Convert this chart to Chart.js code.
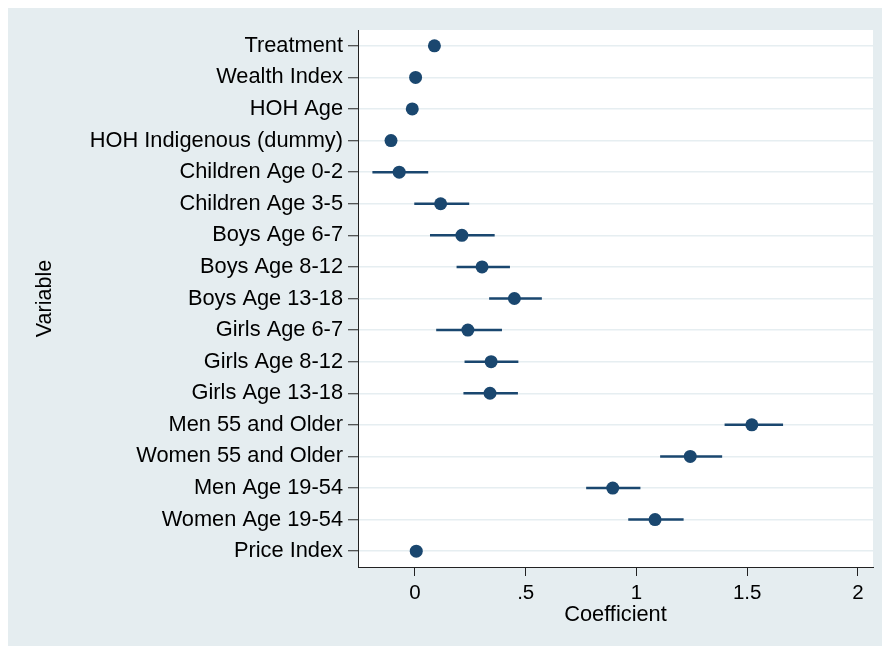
<!DOCTYPE html>
<html>
<head>
<meta charset="utf-8">
<script src="https://cdn.jsdelivr.net/npm/chart.js@4/dist/chart.umd.min.js"></script>
<style>
  html, body { margin: 0; padding: 0; background: #fff; }
  canvas { display: block; }
</style>
</head>
<body>
<canvas id="coefChart" width="885" height="647"></canvas>
<script>
// Variables (top to bottom)
const variables = [
  'Treatment', 'Wealth Index', 'HOH Age', 'HOH Indigenous (dummy)',
  'Children Age 0-2', 'Children Age 3-5', 'Boys Age 6-7', 'Boys Age 8-12',
  'Boys Age 13-18', 'Girls Age 6-7', 'Girls Age 8-12', 'Girls Age 13-18',
  'Men 55 and Older', 'Women 55 and Older', 'Men Age 19-54', 'Women Age 19-54',
  'Price Index'
];
// Point estimates
const coef = [0.088, 0.003, -0.012, -0.108, -0.071, 0.116, 0.212, 0.303, 0.449,
  0.239, 0.344, 0.339, 1.521, 1.243, 0.893, 1.084, 0.006];
// Confidence interval bounds
const ciLow = [0.078, -0.007, -0.022, -0.118, -0.192, -0.003, 0.068, 0.188, 0.335,
  0.096, 0.224, 0.219, 1.398, 1.107, 0.773, 0.963, -0.004];
const ciHigh = [0.098, 0.013, -0.002, -0.098, 0.060, 0.245, 0.360, 0.429, 0.573,
  0.393, 0.467, 0.465, 1.662, 1.387, 1.018, 1.213, 0.016];
// x axis ticks
const xTicks = [0, 0.5, 1, 1.5, 2];
const xTickLabels = ['0', '.5', '1', '1.5', '2'];

const navy = '#1a476f';
const font = '"Liberation Sans", Arial, Helvetica, sans-serif';

// фон панели и белая область графика
const backgroundPlugin = {
  id: 'stataBackground',
  beforeDraw(chart) {
    const c = chart.ctx;
    const a = chart.chartArea;
    c.save();
    c.fillStyle = '#ffffff';
    c.fillRect(0, 0, chart.width, chart.height);
    c.fillStyle = '#e5edf0';
    c.fillRect(8, 8, chart.width - 11, chart.height - 9);
    c.fillStyle = '#ffffff';
    c.fillRect(a.left, a.top, a.right - a.left, a.bottom - a.top);
    c.restore();
  }
};

// горизонтальные доверительные интервалы
const errorBarPlugin = {
  id: 'errorBars',
  beforeDatasetsDraw(chart) {
    const c = chart.ctx;
    const xs = chart.scales.x;
    const ys = chart.scales.y;
    c.save();
    c.strokeStyle = navy;
    c.lineWidth = 2.5;
    variables.forEach((v, i) => {
      const y = ys.getPixelForValue(i);
      c.beginPath();
      c.moveTo(xs.getPixelForValue(ciLow[i]), y);
      c.lineTo(xs.getPixelForValue(ciHigh[i]), y);
      c.stroke();
    });
    c.restore();
  }
};

const points = coef.map((v, i) => ({ x: v, y: i }));

new Chart(document.getElementById('coefChart').getContext('2d'), {
  type: 'scatter',
  data: {
    datasets: [{
      data: points,
      backgroundColor: navy,
      borderColor: navy,
      pointRadius: 6.5,
      pointHoverRadius: 6.5,
      borderWidth: 0
    }]
  },
  options: {
    responsive: false,
    animation: false,
    devicePixelRatio: 1,
    layout: { padding: { left: 8, top: 30, right: 12, bottom: 0 } },
    plugins: {
      legend: { display: false },
      tooltip: { enabled: false }
    },
    scales: {
      x: {
        type: 'linear',
        min: -0.257,
        max: 2.068,
        afterBuildTicks: s => { s.ticks = xTicks.map(v => ({ value: v })); },
        afterFit: s => { s.height = 80; },
        grid: { drawOnChartArea: false, tickLength: 9, tickColor: '#222', tickWidth: 1 },
        border: { color: '#222', width: 1 },
        ticks: {
          autoSkip: false,
          maxRotation: 0,
          padding: 5,
          color: '#000',
          font: { family: font, size: 20.5 },
          callback: (v, i) => xTickLabels[i]
        },
        title: {
          display: true,
          text: 'Coefficient',
          color: '#000',
          font: { family: font, size: 21.8 },
          padding: { top: 0, bottom: 19 }
        }
      },
      y: {
        type: 'linear',
        reverse: true,
        min: -0.5,
        max: 16.5,
        afterBuildTicks: s => { s.ticks = variables.map((v, i) => ({ value: i })); },
        afterFit: s => { s.width = 350; },
        grid: { color: '#e6eef1', lineWidth: 1.5, tickLength: 10, tickColor: '#222', tickWidth: 1 },
        border: { color: '#222', width: 1 },
        ticks: {
          autoSkip: false,
          padding: 5,
          color: '#000',
          font: { family: font, size: 21.8 },
          callback: (v, i) => variables[i]
        },
        title: {
          display: true,
          text: 'Variable',
          color: '#000',
          font: { family: font, size: 21.5 },
          padding: { top: 24, bottom: 0 }
        }
      }
    }
  },
  plugins: [backgroundPlugin, errorBarPlugin]
});
</script>
</body>
</html>
